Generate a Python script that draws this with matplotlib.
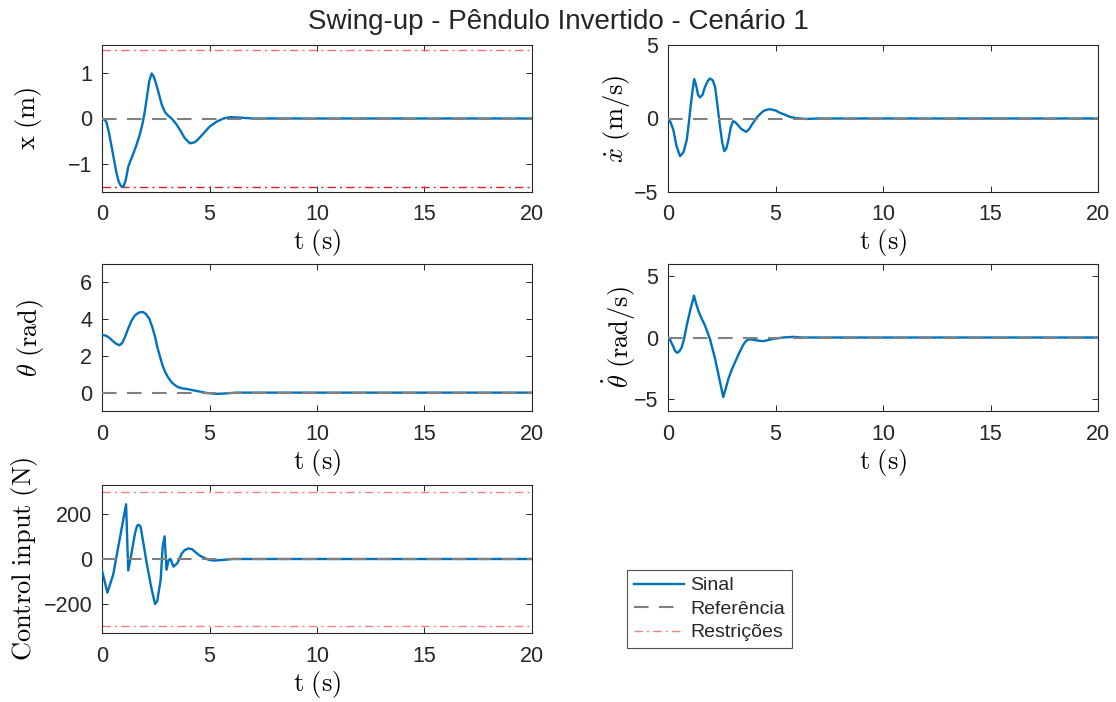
import matplotlib
matplotlib.use("Agg")
import matplotlib.pyplot as plt
import numpy as np

plt.rcParams['font.family'] = ['Liberation Sans', 'DejaVu Sans']
plt.rcParams['mathtext.fontset'] = 'cm'

# ---------------- data ----------------
t_x = [0, 0.1, 0.2, 0.32, 0.45, 0.58, 0.68, 0.78, 0.88, 0.99, 1.1, 1.22, 1.34, 1.46, 1.6, 1.77, 1.9,
       2.0, 2.1, 2.2, 2.31, 2.4, 2.5, 2.62, 2.78, 2.93, 3.08, 3.24, 3.45, 3.63, 3.85, 4.09, 4.3,
       4.5, 4.71, 5.0, 5.33, 5.65, 5.95, 6.4, 7.0, 20]
x_pos = [0, -0.02, -0.07, -0.3, -0.62, -0.95, -1.2, -1.38, -1.47, -1.49, -1.35, -1.05, -0.9, -0.76,
         -0.58, -0.33, -0.08, 0.18, 0.5, 0.82, 0.98, 0.92, 0.78, 0.58, 0.3, 0.14, 0.06, 0.0, -0.12,
         -0.25, -0.43, -0.54, -0.52, -0.44, -0.33, -0.18, -0.07, 0.0, 0.03, 0.02, 0.0, 0.0]

t_xd = [0, 0.12, 0.25, 0.4, 0.56, 0.72, 0.87, 0.97, 1.05, 1.15, 1.22, 1.3, 1.4, 1.49, 1.6, 1.72,
        1.85, 1.95, 2.08, 2.19, 2.3, 2.42, 2.52, 2.62, 2.71, 2.81, 2.92, 3.01, 3.04, 3.12, 3.22, 3.4,
        3.63, 3.76, 3.89, 4.12, 4.28, 4.43, 4.6, 4.74, 5.0, 5.2, 5.45, 5.67, 5.9, 6.13, 6.44, 7.0, 20]
x_dot = [0, -0.25, -0.79, -1.9, -2.56, -2.3, -1.47, -0.3, 0.79, 2.0, 2.68, 2.3, 1.6, 1.43, 1.6, 2.15,
         2.55, 2.72, 2.6, 2.15, 0.9, -0.57, -1.6, -2.22, -2.05, -1.47, -0.6, -0.23, -0.18, -0.25,
         -0.39, -0.7, -0.91, -0.75, -0.45, 0.05, 0.3, 0.5, 0.6, 0.63, 0.55, 0.39, 0.25, 0.11, 0.04,
         0.0, -0.03, 0.0, 0.0]

t_th = [0, 0.15, 0.29, 0.4, 0.52, 0.66, 0.81, 0.94, 1.07, 1.22, 1.38, 1.53, 1.69, 1.8, 1.92, 2.05,
        2.2, 2.33, 2.47, 2.58, 2.7, 2.81, 2.93, 3.08, 3.24, 3.4, 3.55, 3.74, 3.94, 4.15, 4.4, 4.87,
        5.33, 5.8, 6.26, 20]
theta = [3.14, 3.11, 3.03, 2.92, 2.79, 2.66, 2.58, 2.7, 3.03, 3.5, 3.93, 4.2, 4.34, 4.38, 4.38,
         4.27, 4.02, 3.6, 3.03, 2.45, 1.95, 1.5, 1.14, 0.82, 0.56, 0.4, 0.29, 0.23, 0.2, 0.15, 0.09,
         -0.02, -0.07, -0.04, 0.0, 0.0]

t_thd = [0, 0.1, 0.22, 0.33, 0.43, 0.54, 0.64, 0.75, 0.87, 1.05, 1.21, 1.31, 1.41, 1.55, 1.72, 1.95,
         2.19, 2.42, 2.57, 2.68, 2.81, 2.96, 3.12, 3.3, 3.5, 3.62, 3.74, 3.9, 4.05, 4.43, 4.9, 5.36,
         5.81, 6.28, 20]
theta_dot = [0, -0.2, -0.65, -1.1, -1.25, -1.1, -0.79, -0.1, 0.98, 2.34, 3.42, 2.75, 2.2, 1.6,
             0.98, -0.11, -1.74, -3.64, -4.86, -4.2, -3.37, -2.65, -2.01, -1.3, -0.6, -0.3, -0.16,
             -0.16, -0.22, -0.3, -0.11, 0.0, 0.05, 0.0, 0.0]

t_u = [0, 0.25, 0.52, 0.84, 1.12, 1.22, 1.33, 1.53, 1.63, 1.69, 1.75, 1.8, 2.08, 2.31, 2.47, 2.57,
       2.73, 2.82, 2.91, 3.0, 3.1, 3.19, 3.32, 3.5, 3.6, 3.71, 3.85, 4.02, 4.18, 4.33, 4.5, 4.71,
       4.95, 5.18, 5.64, 6.1, 20]
u = [-51, -150, -70, 98, 244, -51, 3, 112, 148, 152, 150, 142, -19, -136, -201, -187,
     -92, 54, 101, -48, -4, 0, -34, -19, 0, 25, 40, 47, 44, 32, 18, 7, -3, -7, -4, 0, 0]

x_lim = 1.5
u_lim = 300

xticks = [0, 5, 10, 15, 20]
title = 'Swing-up - Pêndulo Invertido - Cenário 1'
legend_labels = ['Sinal', 'Referência', 'Restrições']

# ---------------- figure ----------------
W, H = 1116, 702
fig = plt.figure(figsize=(W / 100, H / 100), dpi=100)

def ax_at(l, t, r, b):
    return fig.add_axes([l / W, 1 - b / H, (r - l) / W, (b - t) / H])

blue = '#0072BD'
gray = '#808080'
pink = '#F58080'
ink = '#262626'

axes = [
    ax_at(102, 45, 532, 192),
    ax_at(668, 45, 1098, 192),
    ax_at(102, 264, 532, 411),
    ax_at(668, 264, 1098, 411),
    ax_at(102, 485, 532, 633),
]
series = [(t_x, x_pos), (t_xd, x_dot), (t_th, theta), (t_thd, theta_dot), (t_u, u)]
ylabels = [r'$\mathrm{x\ (m)}$', r'$\dot{x}\ \mathrm{(m/s)}$', r'$\theta\ \mathrm{(rad)}$',
           r'$\dot{\theta}\ \mathrm{(rad/s)}$', r'$\mathrm{Control\ input\ (N)}$']
ylims = [(-1.6, 1.6), (-5, 5), (-1, 7), (-6, 6), (-330, 330)]
yticks = [[-1, 0, 1], [-5, 0, 5], [0, 2, 4, 6], [-5, 0, 5], [-200, 0, 200]]
ylab_x = [28, 617, 30, 619, 24]

handles = None
for i, (ax, (tt, yy), yl, lim, yt) in enumerate(zip(axes, series, ylabels, ylims, yticks)):
    h1, = ax.plot(tt, yy, color=blue, lw=1.7, zorder=3)
    h2, = ax.plot([0, 20], [0, 0], color=gray, lw=1.5, dashes=(7, 5), zorder=4)
    ax.set_xlim(0, 20)
    ax.set_ylim(*lim)
    ax.set_xticks(xticks)
    ax.set_yticks(yt)
    ax.tick_params(direction='in', top=True, right=True, length=4, width=0.7,
                   labelsize=15.5, colors=ink)
    ax.tick_params(axis='x', pad=9)
    ax.tick_params(axis='y', pad=7)
    for s in ax.spines.values():
        s.set_color(ink)
        s.set_linewidth(0.8)
    ax.set_xlabel(r'$\mathrm{t\ (s)}$', fontsize=19)
    ax.xaxis.set_label_coords(0.5, -(51) / 147, transform=ax.transAxes)
    ax.xaxis.label.set_va('center')
    ax.set_ylabel(yl, fontsize=19)
    pos = ax.get_position()
    ax.yaxis.set_label_coords(ylab_x[i] / W, pos.y0 + pos.height / 2, transform=fig.transFigure)
    ax.yaxis.label.set_va('center')
    if handles is None:
        handles = [h1, h2]

# constraints
for ax, lim, cols in [(axes[0], x_lim, ('#F07070', '#E02020')), (axes[4], u_lim, (pink, pink))]:
    h3, = ax.plot([0, 20], [lim, lim], color=cols[0], lw=1.0, dashes=(6, 3, 1.5, 3), zorder=2)
    ax.plot([0, 20], [-lim, -lim], color=cols[1], lw=1.0, dashes=(6, 3, 1.5, 3), zorder=2)
handles.append(h3)

fig.text(0.5, 1 - 22 / H, title, ha='center', va='center', fontsize=20, color=ink)

leg = fig.legend(handles, legend_labels, loc='upper left',
                 bbox_to_anchor=(627 / W, 1 - 570 / H), fontsize=14,
                 frameon=True, fancybox=False, edgecolor=ink, borderpad=0.35,
                 labelspacing=0.3, handlelength=2.6, handletextpad=0.3, borderaxespad=0)
leg.get_frame().set_linewidth(0.8)
for txt in leg.get_texts():
    txt.set_color(ink)

fig.savefig('out.png', dpi=100, facecolor='white')
